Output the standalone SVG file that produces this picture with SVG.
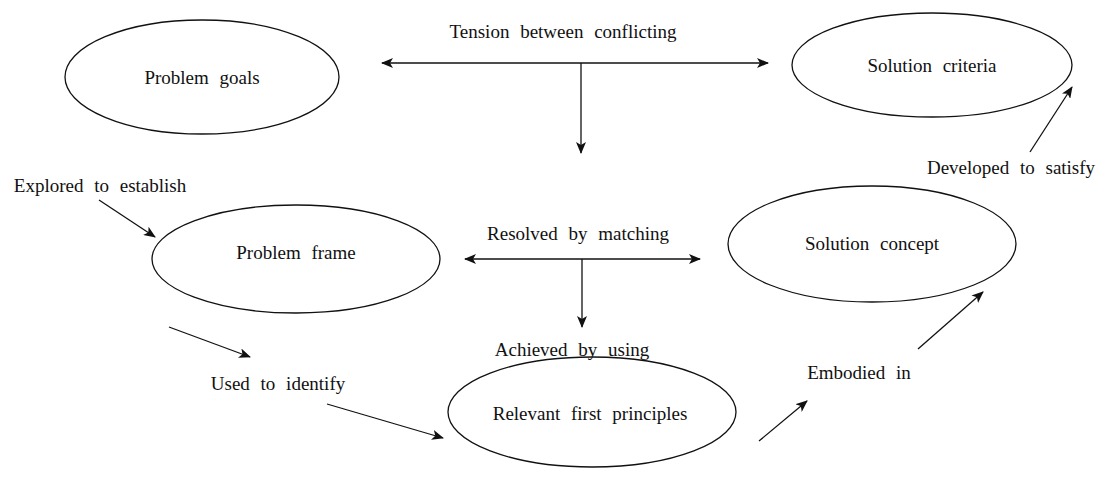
<svg xmlns="http://www.w3.org/2000/svg" width="1109" height="482" viewBox="0 0 1109 482">
<style>
text{font-family:"Liberation Serif","Times New Roman",serif;font-size:19px;word-spacing:6px;fill:#111;text-anchor:middle}
.n ellipse{fill:none;stroke:#111;stroke-width:1.3}
.c line{stroke:#111;stroke-width:1.3;marker-end:url(#ah)}
.c line.b{marker-start:url(#ah2)}
</style>
<defs>
<marker id="ah" viewBox="0 0 12 10" refX="11" refY="5" markerWidth="12" markerHeight="10" markerUnits="userSpaceOnUse" orient="auto">
<path d="M0,0 L12,5 L0,10 L3,5 Z" fill="#111"/>
</marker>
<marker id="ah2" viewBox="0 0 12 10" refX="1" refY="5" markerWidth="12" markerHeight="10" markerUnits="userSpaceOnUse" orient="auto">
<path d="M12,0 L0,5 L12,10 L9,5 Z" fill="#111"/>
</marker>
</defs>
<g id="node-problem-goals" class="n"><ellipse cx="202" cy="77" rx="137" ry="57"/><text x="202" y="84">Problem goals</text></g>
<g id="node-solution-criteria" class="n"><ellipse cx="932" cy="65" rx="140" ry="52"/><text x="932" y="72">Solution criteria</text></g>
<g id="node-problem-frame" class="n"><ellipse cx="296" cy="259" rx="144" ry="54"/><text x="296" y="259">Problem frame</text></g>
<g id="node-solution-concept" class="n"><ellipse cx="872" cy="244" rx="144" ry="58"/><text x="872" y="250">Solution concept</text></g>
<g id="node-first-principles" class="n"><ellipse cx="592" cy="412" rx="144" ry="55"/><text x="590" y="420">Relevant first principles</text></g>
<g id="connectors" class="c">
<line class="b" x1="382" y1="63" x2="768" y2="63"/>
<line x1="581" y1="63" x2="581" y2="153"/>
<line class="b" x1="465" y1="259" x2="700" y2="259"/>
<line x1="582" y1="259" x2="582" y2="327"/>
<line x1="99" y1="200" x2="155" y2="237"/>
<line x1="169" y1="327" x2="250" y2="357"/>
<line x1="327" y1="404" x2="443" y2="438"/>
<line x1="759" y1="441" x2="807" y2="401"/>
<line x1="918" y1="349" x2="983" y2="292"/>
<line x1="1030" y1="152" x2="1072" y2="87"/>
</g>
<g id="labels">
<text x="563" y="38">Tension between conflicting</text>
<text x="578" y="240">Resolved by matching</text>
<text x="572" y="356">Achieved by using</text>
<text x="100" y="192">Explored to establish</text>
<text x="278" y="390">Used to identify</text>
<text x="859" y="379">Embodied in</text>
<text x="1011" y="174">Developed to satisfy</text>
</g>
</svg>
